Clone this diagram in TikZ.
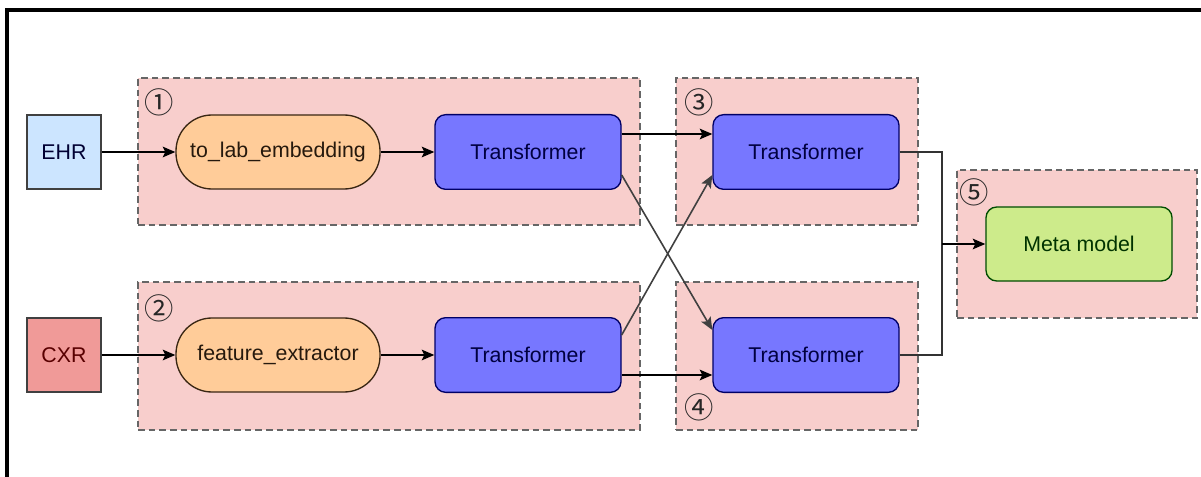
\documentclass[tikz,border=0pt]{standalone}
\usepackage{fontspec}
\setmainfont{Liberation Sans}
\newfontfamily\circfont{Noto Sans CJK SC}
\usetikzlibrary{arrows.meta,calc}

\definecolor{ehrfill}{HTML}{CCE5FF}
\definecolor{cxrfill}{HTML}{F09A98}
\definecolor{grpfill}{HTML}{F8CECC}
\definecolor{ovalfill}{HTML}{FFCC99}
\definecolor{tffill}{HTML}{7777FF}
\definecolor{metafill}{HTML}{CDEB8B}

\tikzset{
  grp/.style={draw=black!60, dashed, dash pattern=on 5pt off 3pt, fill=grpfill, line width=0.9pt, inner sep=0pt},
  inbox/.style={draw=black!75, line width=1pt, minimum width=55.5pt, minimum height=55.5pt, inner sep=0pt},
  oval/.style={draw=black!70!brown, fill=ovalfill, text=black!80!brown, line width=1pt, rounded corners=27pt, minimum width=153pt, minimum height=55.5pt},
  tf/.style={draw=black!60!blue, fill=tffill, text=blue!25!black, line width=1pt, rounded corners=8pt, minimum width=139.5pt, minimum height=56pt},
  meta/.style={draw=black!70!green, fill=metafill, text=green!20!black, line width=1pt, rounded corners=8pt, minimum width=139.5pt, minimum height=55.5pt},
  num/.style={text=black!85, inner sep=0pt, font=\circfont\fontsize{22}{22}\selectfont},
  arr/.style={-{Stealth[length=9.5pt, width=8pt, inset=2pt]}, line width=1.2pt},
}

\begin{document}
\begin{tikzpicture}[x=0.75pt, y=-0.75pt, font=\fontsize{16}{19}\selectfont]
\useasboundingbox (0,0) rectangle (1201,477);
\draw[line width=2.4pt] (7,477) -- (7,10) -- (1201,10);

% stages behind the blocks
\node[grp, minimum width=376.5pt, minimum height=110.25pt] (g1) at (389,151.5) {};
\node[grp, minimum width=376.5pt, minimum height=111pt] (g2) at (389,356) {};
\node[grp, minimum width=181.5pt, minimum height=110.25pt] (g3) at (797,151.5) {};
\node[grp, minimum width=181.5pt, minimum height=111pt] (g4) at (797,356) {};
\node[grp, minimum width=180pt, minimum height=111pt] (g5) at (1077,244) {};

\node[num] (n1) at (159,102) {①};
\node[num] (n2) at (159,308) {②};
\node[num] (n3) at (699,102) {③};
\node[num] (n4) at (699,407) {④};
\node[num] (n5) at (974,192) {⑤};

% inputs
\node[inbox, fill=ehrfill, text=black!80!blue] (ehr) at (64,152) {EHR};
\node[inbox, fill=cxrfill, text=red!35!black] (cxr) at (64,355) {CXR};

\node[oval] (emb) at (278,152) {to\_lab\_embedding};
\node[oval] (fex) at (278,355) {feature\_extractor};

\node[tf] (tf1) at (528,152) {Transformer};
\node[tf] (tf2) at (528,355) {Transformer};
\node[tf] (tf3) at (806,152) {Transformer};
\node[tf] (tf4) at (806,355) {Transformer};

\node[meta] (mm) at (1079,244) {Meta model};
\coordinate (jn) at (942,244);

\draw[arr] (ehr) -- (emb);
\draw[arr] (cxr) -- (fex);
\draw[arr] (emb) -- (tf1);
\draw[arr] (fex) -- (tf2);

\draw[arr] ($(tf1.east)+(0,-18)$) -- ($(tf3.west)+(0,-18)$);
\draw[arr] ($(tf2.east)+(0,20)$) -- ($(tf4.west)+(0,20)$);
% crossing links
\draw[arr, black!75] ($(tf1.east)+(0,23)$) -- ($(tf4.west)+(0,-25)$);
\draw[arr, black!75] ($(tf2.east)+(0,-20)$) -- ($(tf3.west)+(0,23)$);

\draw[line width=1.2pt, black!80] (tf3.east) -| (jn);
\draw[line width=1.2pt, black!80] (tf4.east) -| (jn);
\draw[arr] (jn) -- (mm);
\end{tikzpicture}
\end{document}
